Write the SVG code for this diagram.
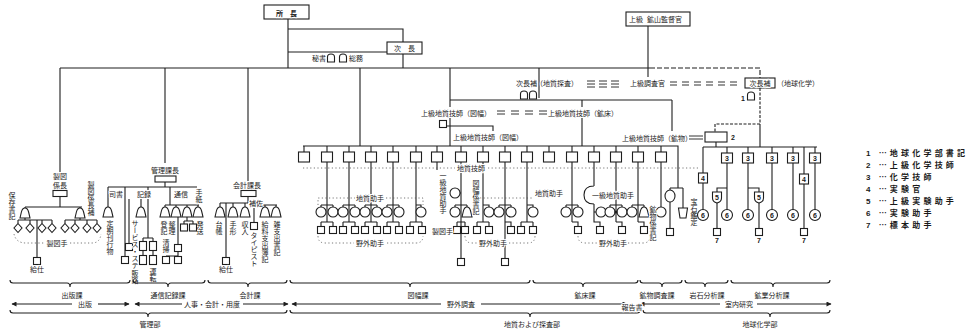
<svg xmlns="http://www.w3.org/2000/svg" xmlns:xlink="http://www.w3.org/1999/xlink" width="968" height="333" viewBox="0 0 968 333">
<style>
.l{stroke:#1e1e1e;stroke-width:1.1;fill:none}
.d{stroke:#555;stroke-width:0.8;stroke-dasharray:1.2 2.4;fill:none}
.sh{fill:#fff;stroke:#1e1e1e;stroke-width:1.1}
.t{font-family:"Noto Sans CJK JP","Noto Sans CJK SC",sans-serif;font-size:7px;fill:#1a1a1a;paint-order:stroke;stroke:#fff;stroke-width:2px;stroke-linejoin:round}
.v{writing-mode:vertical-rl}
.m{text-anchor:middle}
.n{font-family:"Liberation Sans",sans-serif;font-weight:bold}
.lg{font-family:"Noto Sans CJK JP",sans-serif;font-size:8px;fill:#1a1a1a;letter-spacing:3.2px;font-weight:bold}
</style>
<defs>
<path id="bell" d="M-5,5 L-3.6,-1 Q-2.6,-5 0,-5 Q2.6,-5 3.6,-1 L5,5 Z"/>
<path id="dia" d="M0,-4.5 L4,0 L0,4.5 L-4,0 Z"/>
<rect id="sb" x="-3.5" y="-3.5" width="7" height="7"/>
<path id="shield" d="M-4.5,-5 H4.5 V1 Q4.5,5 0,6 Q-4.5,5 -4.5,1 Z"/>
<path id="cup" d="M-4.5,-5 H4.5 L3,5 H-3 Z"/>
<path id="bag" d="M-3.5,4 V-1 Q-3.5,-4 0,-4 Q3.5,-4 3.5,-1 V4 Z"/>
<marker id="ah" viewBox="0 0 10 10" refX="9" refY="5" markerWidth="7" markerHeight="5" markerUnits="userSpaceOnUse" orient="auto-start-reverse"><path d="M0,0 L10,5 L0,10 Z" fill="#1e1e1e"/></marker>
</defs>
<rect width="968" height="333" fill="#fff"/>

<g id="connectors" class="l">
<path d="M288,19V68M288,29H403V42M288,52H387M403,54V68"/>
<path d="M60,68H650"/>
<path d="M650,68H760V78" stroke-dasharray="5 2"/>
<path d="M648,26V77"/>
<path d="M60,68V172M165,68V163M248,68V182M360,68V146M450,68V107M450,118V146M539,68V98"/>
<path d="M450,100H672M582,100V107M582,118V146M672,100V131M447,126H493V131"/>
<path d="M303,146H678V188"/>
<path d="M304,146V152M327,146V152M349,146V152M371,146V152M393,146V152M416,146V152M437,146V152M461,146V152M483,146V152M505,146V152M527,146V152M549,146V152M572,146V152M594,146V152M616,146V152M638,146V152M661,146V152"/>
<path d="M587,81h8M587,84h8M587,87h8M599,81h8M599,84h8M599,87h8M611,81h8M611,84h8M611,87h8" stroke-width="0.9"/>
<path d="M670,82h7M670,85h7M682,82h7M682,85h7M694,82h7M694,85h7M706,82h7M706,85h7M718,82h7M718,85h7M730,82h7M730,85h7" stroke-width="0.9"/>
<path d="M497,111h8M497,114h8M511,111h8M511,114h8M525,111h8M525,114h8M539,111h8M539,114h8" stroke-width="0.9"/>
<path d="M689,136h14M689,139h14" stroke-width="0.9"/>
<path d="M327,162V222M321,205H333M321,205V207M333,205V207M321,222H333M321,222V226.5M333,222V226.5"/>
<path d="M349,162V222M343,205H355M343,205V207M355,205V207M343,222H355M343,222V226.5M355,222V226.5"/>
<path d="M371,162V222M365,205H377M365,205V207M377,205V207M365,222H377M365,222V226.5M377,222V226.5"/>
<path d="M393,162V222M387,205H399M387,205V207M399,205V207M387,222H399M387,222V226.5M399,222V226.5"/>
<path d="M416,162V222M416,205H421V207M410,222H422M410,222V226.5M422,222V226.5"/>
<path d="M437,162V170"/>
<path d="M461,162V222M455,205H467M455,205V207M467,205V207M457,222H465M457,222V226.5M465,222V226.5M461,222V258.5M460,193H461"/>
<path d="M483,162V222M483,205H489V207M477,222H489M477,222V226.5M489,222V226.5"/>
<path d="M505,162V258.5M499,205H511M499,205V207M511,205V207M505,222H511V226.5"/>
<path d="M527,162V222M527,205H533V207M521,222H533M521,222V226.5M533,222V226.5"/>
<path d="M572,162V222M566,205H578M566,205V207M578,205V207M572,222H578V226.5"/>
<path d="M594,162V186M594,186Q584,186 584,195Q584,204 594,204M594,204V222H600V226.5M594,212H596"/>
<path d="M616,162V222M610,205H622M610,205V207M622,205V207M616,222H622V226.5"/>
<path d="M638,162V222M632,205H644M632,205V207M644,205V207M638,222H644V226.5"/>
<path d="M661,162V207"/>
<path d="M670,188H683M670,188V190M670,202V228.5M683,188V208"/>
<path d="M760,88V124H715V132" stroke-dasharray="3 1.5"/>
<path d="M716,142V147M760,124V147M703,147H817"/>
<path d="M727,147V153M748,147V153M772,147V153M793,147V153M815,147V153"/>
<path d="M703,147V173M703,183V209.5M727,163V209.5M727,188H717V192M748,163V209.5M748,188H759V192M717,203V228.5M759,203V228.5"/>
<path d="M772,163V209.5M793,163V209.5M815,163V209.5M804,147V174M804,184V228.5"/>
<path d="M60,196.5V207M25,207H82M25,207V208M80,207V208M25,218V220M18,220H52M18,220V223.5M30,220V223.5M42,220V223.5M52,220V223.5"/>
<path d="M80,218V220M65,220H97M65,220V223.5M75,220V223.5M87,220V223.5M97,220V223.5M37,220V257.5"/>
<path d="M165,182V187M108,187H197M108,187V207M125,187V256.5M129,199V243.5"/>
<path d="M148,187V190M148,199V238M141,199V207M143,238H153M143,238V241.5M153,238V241.5M143,250.5V255.5M153,250.5V255.5"/>
<path d="M170,187V205M165,205H199M165,205V207M176,205V207M187,205V207M198,205V207"/>
<path d="M178,217V244.5M178,251.5V256.5M166,256H178M166,256V256.5M187,217V221M184,221H193M184,221V224M193,221V224"/>
<path d="M248,196.5V203M220,203H248M220,203V207M233,203V207M245,203V207M226,203V257.5M254,208V222.5M262,205H277M265,205V207M276,205V207"/>
</g>

<g id="dotted" class="d">
<path d="M303,168H455M488,168H700"/>
<path d="M318,205V198H355M386,198H423V205"/>
<path d="M318,236Q318,243 325,243H354M387,243H416Q423,243 423,236"/>
<path d="M480,198H532"/>
<path d="M465,236Q465,243 472,243H477M509,243H528Q535,243 535,236"/>
<path d="M578,236Q578,243 585,243H598M628,243H643Q650,243 650,236"/>
<path d="M14,234Q16,243 26,243H45M70,243H92Q100,243 101,234"/>
</g>

<g id="n-shocho"><rect class="sh" x="264" y="5" width="45" height="14"/><text class="t m" x="286.5" y="16" font-size="10.5" font-weight="bold">所　長</text></g>
<g id="n-jicho"><rect class="sh" x="387" y="42" width="35" height="12"/><text class="t m" x="404.5" y="51">次　長</text></g>
<g id="n-hisho"><text class="t" x="312" y="61" font-size="6">秘書</text><use href="#bag" class="sh" x="331" y="58"/><use href="#bag" class="sh" x="343" y="58"/><text class="t" x="349" y="61" font-size="6">総務</text></g>
<g id="n-kozan"><rect class="sh" x="626" y="12" width="64" height="14"/><text class="t" x="629" y="22" font-size="6.5">上級</text><text class="t" x="647" y="22" font-size="7.5">鉱山監督官</text></g>
<g id="n-jichoho1"><text class="t" x="516" y="86" font-size="6">次長補</text><text class="t" x="536" y="86">（地質探査）</text><use href="#bag" class="sh" x="524" y="95"/><use href="#bag" class="sh" x="533" y="95"/></g>
<g id="n-chosakan"><text class="t" x="630" y="86">上級調査官</text></g>
<g id="n-jichoho2"><rect class="sh" x="745" y="78" width="30" height="10"/><text class="t m" x="760" y="86" font-size="6.5">次長補</text><text class="t" x="777" y="86" font-size="6.5">（地球化学）</text><text class="t n" x="741" y="101" font-size="7">1</text><use href="#bag" class="sh" x="751" y="96"/></g>
<g id="n-gishi1"><text class="t" x="421" y="116">上級地質技師（図幅）</text><use href="#sb" class="sh" x="443" y="124"/></g>
<g id="n-gishi2"><text class="t" x="548" y="116">上級地質技師（鉱床）</text></g>
<g id="n-gishi3"><text class="t" x="453" y="140" font-size="6.5">上級地質技師（図幅）</text></g>
<g id="n-gishi4"><text class="t" x="622" y="141" font-size="6.5">上級地質技師（鉱物）</text></g>
<g id="n-2"><rect class="sh" x="705" y="132" width="22" height="10" stroke-width="1.6"/><text class="t n" x="731" y="140" font-size="8">2</text></g>

<g id="n-row-boxes">
<rect class="sh" x="298.5" y="152" width="11" height="10"/><rect class="sh" x="321.5" y="152" width="11" height="10"/><rect class="sh" x="343.5" y="152" width="11" height="10"/><rect class="sh" x="365.5" y="152" width="11" height="10"/><rect class="sh" x="387.5" y="152" width="11" height="10"/><rect class="sh" x="410.5" y="152" width="11" height="10"/><rect class="sh" x="431.5" y="152" width="11" height="10"/><rect class="sh" x="455.5" y="152" width="11" height="10"/><rect class="sh" x="477.5" y="152" width="11" height="10"/><rect class="sh" x="499.5" y="152" width="11" height="10"/><rect class="sh" x="521.5" y="152" width="11" height="10"/><rect class="sh" x="543.5" y="152" width="11" height="10"/><rect class="sh" x="566.5" y="152" width="11" height="10"/><rect class="sh" x="588.5" y="152" width="11" height="10"/><rect class="sh" x="610.5" y="152" width="11" height="10"/><rect class="sh" x="632.5" y="152" width="11" height="10"/><rect class="sh" x="655.5" y="152" width="11" height="10"/>
<text class="t" x="457" y="171">地質技師</text>
</g>

<g id="n-zuhaba-staff">
<circle class="sh" cx="321" cy="212" r="5"/><circle class="sh" cx="333" cy="212" r="5"/><circle class="sh" cx="343" cy="212" r="5"/><circle class="sh" cx="355" cy="212" r="5"/><circle class="sh" cx="365" cy="212" r="5"/><circle class="sh" cx="377" cy="212" r="5"/><circle class="sh" cx="387" cy="212" r="5"/><circle class="sh" cx="399" cy="212" r="5"/><circle class="sh" cx="421" cy="212" r="5"/>
<use href="#sb" class="sh" x="321" y="230"/><use href="#sb" class="sh" x="333" y="230"/><use href="#sb" class="sh" x="343" y="230"/><use href="#sb" class="sh" x="355" y="230"/><use href="#sb" class="sh" x="365" y="230"/><use href="#sb" class="sh" x="377" y="230"/><use href="#sb" class="sh" x="387" y="230"/><use href="#sb" class="sh" x="399" y="230"/><use href="#sb" class="sh" x="410" y="230"/><use href="#sb" class="sh" x="422" y="230"/>
<text class="t m" x="370" y="201" font-size="6.5">地質助手</text>
<text class="t m" x="370" y="246" font-size="6.5">野外助手</text>
<text class="t v" x="443" y="172" font-size="6.5">一級地質助手</text>
<circle class="sh" cx="455" cy="193" r="5"/><circle class="sh" cx="455" cy="212" r="5"/><use href="#bell" class="sh" x="467" y="212"/>
<use href="#sb" class="sh" x="457" y="230"/><use href="#sb" class="sh" x="465" y="230"/><use href="#sb" class="sh" x="461" y="262"/>
<text class="t" x="432" y="234" font-size="6.5">製図手</text>
<text class="t v" x="476" y="180" font-size="6.5">図幅係書記</text>
<circle class="sh" cx="489" cy="212" r="5"/><use href="#sb" class="sh" x="477" y="230"/><use href="#sb" class="sh" x="489" y="230"/>
<circle class="sh" cx="499" cy="212" r="5"/><circle class="sh" cx="511" cy="212" r="5"/><use href="#sb" class="sh" x="511" y="230"/><use href="#sb" class="sh" x="505" y="262"/>
<circle class="sh" cx="533" cy="212" r="5"/><use href="#sb" class="sh" x="521" y="230"/><use href="#sb" class="sh" x="533" y="230"/>
<text class="t" x="535" y="196" font-size="6.5">地質助手</text>
<text class="t m" x="493" y="246" font-size="6.5">野外助手</text>
</g>

<g id="n-kosho-staff">
<circle class="sh" cx="566" cy="212" r="5"/><circle class="sh" cx="578" cy="212" r="5"/><use href="#sb" class="sh" x="578" y="230"/>
<circle class="sh" cx="601" cy="212" r="5"/><use href="#sb" class="sh" x="600" y="230"/>
<text class="t" x="592" y="198" font-size="6.5">一級地質助手</text>
<circle class="sh" cx="610" cy="212" r="5"/><circle class="sh" cx="622" cy="212" r="5"/><circle cx="616" cy="212" r="1.6" fill="#1e1e1e"/><use href="#sb" class="sh" x="622" y="230"/>
<circle class="sh" cx="632" cy="212" r="5"/><use href="#bell" class="sh" x="644" y="212"/><use href="#sb" class="sh" x="644" y="230"/>
<circle class="sh" cx="661" cy="212" r="5"/>
<text class="t v" x="653" y="206" font-size="6.5">鉱物係書記</text>
<text class="t m" x="613" y="246" font-size="6.5">野外助手</text>
<ellipse class="sh" cx="670" cy="196" rx="5" ry="6"/><use href="#cup" class="sh" x="683" y="213"/><use href="#sb" class="sh" x="670" y="232"/>
<text class="t v" x="694" y="198" font-size="6.5">宝石鑑定</text>
</g>

<g id="n-chem-staff">
<rect class="sh" x="721.5" y="153" width="11" height="10"/><text class="t n m" x="727" y="161" font-size="7.5">3</text>
<rect class="sh" x="742.5" y="153" width="11" height="10"/><text class="t n m" x="748" y="161" font-size="7.5">3</text>
<rect class="sh" x="766.5" y="153" width="11" height="10"/><text class="t n m" x="772" y="161" font-size="7.5">3</text>
<rect class="sh" x="787.5" y="153" width="11" height="10"/><text class="t n m" x="793" y="161" font-size="7.5">3</text>
<rect class="sh" x="809.5" y="153" width="11" height="10"/><text class="t n m" x="815" y="161" font-size="7.5">3</text>
<rect class="sh" x="698.5" y="173" width="9" height="10"/><text class="t n m" x="703" y="181" font-size="7">4</text>
<rect class="sh" x="799.5" y="174" width="9" height="10"/><text class="t n m" x="804" y="182" font-size="7">4</text>
<use href="#shield" class="sh" x="717" y="197"/><text class="t n m" x="717" y="200" font-size="6.5">5</text>
<use href="#shield" class="sh" x="759" y="197"/><text class="t n m" x="759" y="200" font-size="6.5">5</text>
<circle class="sh" cx="703" cy="215" r="5.5" stroke-width="1.4"/><text class="t n m" x="703" y="217.5" font-size="7">6</text>
<circle class="sh" cx="727" cy="215" r="5.5" stroke-width="1.4"/><text class="t n m" x="727" y="217.5" font-size="7">6</text>
<circle class="sh" cx="748" cy="215" r="5.5" stroke-width="1.4"/><text class="t n m" x="748" y="217.5" font-size="7">6</text>
<circle class="sh" cx="772" cy="215" r="5.5" stroke-width="1.4"/><text class="t n m" x="772" y="217.5" font-size="7">6</text>
<circle class="sh" cx="793" cy="215" r="5.5" stroke-width="1.4"/><text class="t n m" x="793" y="217.5" font-size="7">6</text>
<circle class="sh" cx="815" cy="215" r="5.5" stroke-width="1.4"/><text class="t n m" x="815" y="217.5" font-size="7">6</text>
<use href="#sb" class="sh" x="717" y="232"/><text class="t n m" x="717" y="243" font-size="7">7</text>
<use href="#sb" class="sh" x="759" y="232"/><text class="t n m" x="759" y="243" font-size="7">7</text>
<use href="#sb" class="sh" x="804" y="232"/><text class="t n m" x="804" y="243" font-size="7">7</text>
</g>

<g id="n-seizu">
<text class="t m" x="60" y="179" font-size="5.8">製図</text><text class="t m" x="60" y="188" font-size="5.8">係長</text>
<rect class="sh" x="53" y="190.5" width="14" height="6"/>
<text class="t v" x="12" y="192" font-size="6">保存書記</text>
<text class="t v" x="91" y="181" font-size="7">製図係長補</text>
<use href="#bell" class="sh" x="25" y="213"/><use href="#bell" class="sh" x="80" y="213"/>
<use href="#dia" class="sh" x="18" y="228"/><use href="#dia" class="sh" x="30" y="228"/><use href="#dia" class="sh" x="42" y="228"/><use href="#dia" class="sh" x="52" y="228"/>
<use href="#dia" class="sh" x="65" y="228"/><use href="#dia" class="sh" x="75" y="228"/><use href="#dia" class="sh" x="87" y="228"/><use href="#dia" class="sh" x="97" y="228"/>
<text class="t m" x="57" y="246" font-size="6.5">製図手</text>
<use href="#sb" class="sh" x="37" y="261"/><text class="t m" x="37" y="272" font-size="6.5">給仕</text>
</g>

<g id="n-kanri">
<text class="t m" x="165" y="173" font-size="6.5">管理課長</text>
<rect class="sh" x="155" y="176" width="21" height="6"/>
<text class="t m" x="116" y="197" font-size="6.5">司書</text>
<text class="t m" x="144" y="197" font-size="6.5">記録</text>
<text class="t m" x="181" y="197" font-size="6.5">通信</text>
<text class="t v" x="199" y="189" font-size="6">手紙</text>
<use href="#bell" class="sh" x="108" y="212"/>
<text class="t v" x="110" y="220" font-size="6.5">定期刊行物</text>
<use href="#sb" class="sh" x="129" y="247"/><use href="#sb" class="sh" x="125" y="260"/>
<use href="#bell" class="sh" x="141" y="212"/>
<text class="t v" x="135" y="220" font-size="6">サービス・ステー</text>
<text class="t v" x="135" y="270" font-size="6">販路</text>
<rect class="sh" x="139.5" y="241.5" width="7" height="9"/><rect class="sh" x="149.5" y="241.5" width="7" height="9"/>
<rect class="sh" x="139.5" y="255.5" width="7" height="9"/><rect class="sh" x="149.5" y="255.5" width="7" height="9"/>
<text class="t v" x="153" y="268" font-size="6.5">運転</text>
<use href="#bell" class="sh" x="165" y="212"/><use href="#bell" class="sh" x="176" y="212"/><use href="#bell" class="sh" x="187" y="212"/><use href="#bell" class="sh" x="198" y="212"/>
<text class="t v" x="164" y="221" font-size="6">登記</text>
<text class="t v" x="172" y="221" font-size="6">整理</text>
<text class="t v" x="200" y="221" font-size="6">発送</text>
<use href="#sb" class="sh" x="184" y="227.5"/><use href="#sb" class="sh" x="193" y="227.5"/>
<use href="#sb" class="sh" x="178" y="248"/>
<text class="t v" x="166" y="239" font-size="6">清掃</text>
<use href="#sb" class="sh" x="166" y="260"/><use href="#sb" class="sh" x="178" y="260"/>
</g>

<g id="n-kaikei">
<text class="t m" x="247" y="188" font-size="6.5">会計課長</text>
<rect class="sh" x="241" y="190.5" width="15" height="6"/>
<use href="#bell" class="sh" x="220" y="212"/><use href="#bell" class="sh" x="233" y="212"/><use href="#bell" class="sh" x="245" y="212"/>
<text class="t" x="249" y="206" font-size="6.5">補佐</text>
<use href="#bell" class="sh" x="265" y="212"/><use href="#bell" class="sh" x="276" y="212"/>
<text class="t v" x="219" y="221" font-size="6">台帳</text>
<text class="t v" x="233" y="221" font-size="6">手形</text>
<text class="t v" x="245" y="221" font-size="6">収入</text>
<text class="t v" x="265" y="221" font-size="6">給料支出簿記</text>
<text class="t v" x="277" y="221" font-size="6">雑支出書記</text>
<use href="#sb" class="sh" x="254" y="226"/>
<text class="t v" x="254" y="232" font-size="6">タイピスト</text>
<use href="#sb" class="sh" x="226" y="261"/><text class="t m" x="226" y="272" font-size="6.5">給仕</text>
</g>

<g id="legend">
<text class="lg" x="866" y="156"><tspan class="n">1</tspan> …地球化学部書記</text>
<text class="lg" x="866" y="168"><tspan class="n">2</tspan> …上級化学技師</text>
<text class="lg" x="866" y="180"><tspan class="n">3</tspan> …化学技師</text>
<text class="lg" x="866" y="192"><tspan class="n">4</tspan> …実験官</text>
<text class="lg" x="866" y="204"><tspan class="n">5</tspan> …上級実験助手</text>
<text class="lg" x="866" y="216"><tspan class="n">6</tspan> …実験助手</text>
<text class="lg" x="866" y="228"><tspan class="n">7</tspan> …標本助手</text>
</g>

<g id="bottom" class="l">
<path d="M10,280Q10,283 13,283H67Q70,283 70,287Q70,283 73,283H127Q130,283 130,280"/>
<path d="M133,280Q133,283 136,283H165Q168,283 168,287Q168,283 171,283H202Q205,283 205,280"/>
<path d="M208,280Q208,283 211,283H245Q248,283 248,287Q248,283 251,283H284Q287,283 287,280"/>
<path d="M290,280Q290,283 293,283H407Q410,283 410,287Q410,283 413,283H527Q530,283 530,280"/>
<path d="M533,280Q533,283 536,283H580Q583,283 583,287Q583,283 586,283H635Q638,283 638,280"/>
<path d="M640,280Q640,283 643,283H659Q662,283 662,287Q662,283 665,283H679Q682,283 682,280"/>
<path d="M685,280Q685,283 688,283H702Q705,283 705,287Q705,283 708,283H725Q728,283 728,280"/>
<path d="M731,280Q731,283 734,283H770Q773,283 773,287Q773,283 776,283H827Q830,283 830,280"/>
<path d="M12,304H72" marker-start="url(#ah)"/>
<path d="M98,304H129" marker-end="url(#ah)"/>
<path d="M135,304H182" marker-start="url(#ah)"/>
<path d="M243,304H288" marker-end="url(#ah)"/>
<path d="M292,304H441" marker-start="url(#ah)"/>
<path d="M481,304H627" marker-end="url(#ah)"/>
<path d="M640,304H720" marker-start="url(#ah)"/>
<path d="M757,304H831" marker-end="url(#ah)"/>
<path d="M10,310Q10,313 13,313H145Q148,313 148,317Q148,313 151,313H284Q287,313 287,310"/>
<path d="M290,310Q290,313 293,313H527Q530,313 530,317Q530,313 533,313H637Q640,313 640,310"/>
<path d="M643,310Q643,313 646,313H767Q770,313 770,317Q770,313 773,313H827Q830,313 830,310"/>
</g>
<g id="bottom-labels">
<text class="t m" x="72" y="298">出版課</text>
<text class="t m" x="168" y="298">通信記録課</text>
<text class="t m" x="250" y="298">会計課</text>
<text class="t m" x="418" y="298">図幅課</text>
<text class="t m" x="585" y="298">鉱床課</text>
<text class="t m" x="657" y="298" font-size="6">鉱物調査課</text>
<text class="t m" x="707" y="298" font-size="6">岩石分析課</text>
<text class="t m" x="772" y="298" font-size="6">鉱業分析課</text>
<text class="t m" x="85" y="306.5" font-size="6.5">出版</text>
<text class="t m" x="212" y="306.5" font-size="6.5">人事・会計・用度</text>
<text class="t m" x="461" y="306.5" font-size="6.5">野外調査</text>
<text class="t m" x="632" y="310" font-size="6">報告書</text>
<text class="t m" x="739" y="306.5" font-size="6.5">室内研究</text>
<text class="t m" x="150" y="327" font-size="6.5">管理部</text>
<text class="t m" x="532" y="327" font-size="6.5">地質および探査部</text>
<text class="t m" x="760" y="327" font-size="6.5">地球化学部</text>
</g>
</svg>
